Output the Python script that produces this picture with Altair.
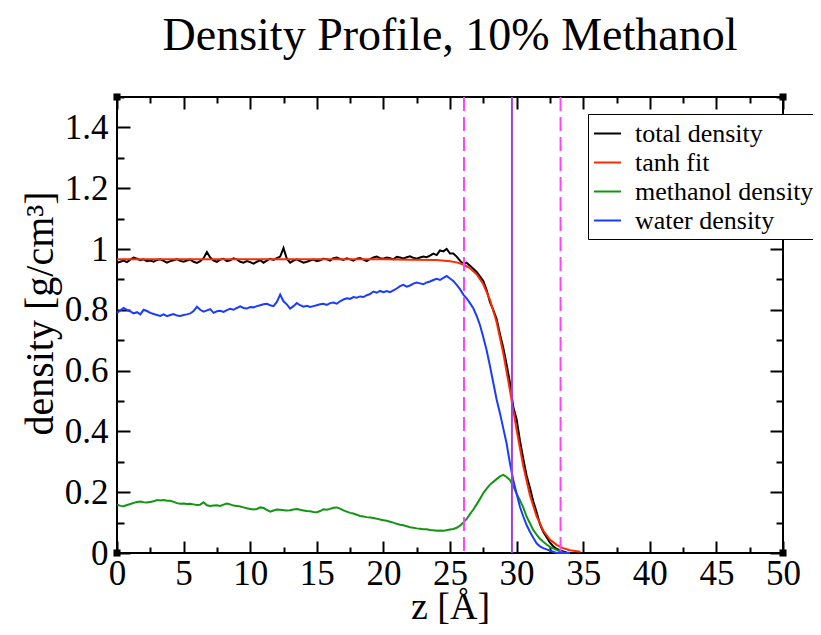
import altair as alt
import pandas as pd

# ---------------- data ----------------
# z grid (Angstrom), 0 .. 34 in 0.25 steps
z_grid = [round(i * 0.25, 2) for i in range(137)]

total_density = [
    0.955, 0.958, 0.962, 0.957, 0.965, 0.972, 0.968, 0.963, 0.966, 0.960, 0.962,
    0.958, 0.964, 0.966, 0.961, 0.955, 0.960, 0.963, 0.967, 0.961, 0.958,
    0.962, 0.965, 0.958, 0.954, 0.960, 0.970, 0.990, 0.972, 0.962, 0.958,
    0.965, 0.968, 0.960, 0.963, 0.969, 0.966, 0.958, 0.955, 0.960, 0.957,
    0.952, 0.958, 0.963, 0.955, 0.962, 0.968, 0.964, 0.970, 0.975, 1.003,
    0.968, 0.955, 0.962, 0.966, 0.960, 0.955, 0.958, 0.962, 0.965, 0.960,
    0.963, 0.968, 0.966, 0.962, 0.970, 0.972, 0.967, 0.964, 0.969, 0.966,
    0.962, 0.968, 0.970, 0.965, 0.960, 0.967, 0.972, 0.975, 0.970, 0.968,
    0.972, 0.970, 0.966, 0.974, 0.972, 0.969, 0.973, 0.976, 0.971, 0.968,
    0.972, 0.975, 0.973, 0.978, 0.985, 0.980, 0.995, 0.992, 1.000, 0.985,
    0.985, 0.975, 0.962, 0.950, 0.955, 0.945, 0.935, 0.925, 0.910, 0.895,
    0.865, 0.825, 0.800, 0.770, 0.720, 0.675, 0.620, 0.560, 0.480, 0.440,
    0.370, 0.310, 0.255, 0.215, 0.170, 0.135, 0.095, 0.070, 0.052, 0.035,
    0.022, 0.014, 0.008, 0.005, 0.002, 0.0,
]

water_density = [
    0.790, 0.798, 0.806, 0.800, 0.795, 0.788, 0.792, 0.785, 0.800, 0.796, 0.790,
    0.786, 0.783, 0.780, 0.785, 0.779, 0.783, 0.786, 0.781, 0.780, 0.783,
    0.785, 0.788, 0.796, 0.810, 0.800, 0.794, 0.798, 0.802, 0.790, 0.795,
    0.797, 0.793, 0.799, 0.803, 0.800, 0.806, 0.811, 0.806, 0.804, 0.809,
    0.808, 0.812, 0.815, 0.818, 0.820, 0.815, 0.812, 0.826, 0.850, 0.828,
    0.818, 0.804, 0.812, 0.822, 0.815, 0.810, 0.813, 0.809, 0.812, 0.815,
    0.818, 0.820, 0.816, 0.822, 0.824, 0.820, 0.828, 0.834, 0.838, 0.836,
    0.842, 0.840, 0.844, 0.842, 0.848, 0.852, 0.860, 0.856, 0.862, 0.858,
    0.862, 0.858, 0.864, 0.870, 0.878, 0.882, 0.876, 0.880, 0.886, 0.890,
    0.887, 0.884, 0.890, 0.893, 0.898, 0.902, 0.898, 0.905, 0.911, 0.903,
    0.895, 0.882, 0.868, 0.850, 0.838, 0.822, 0.805, 0.780, 0.750, 0.710,
    0.667, 0.615, 0.560, 0.505, 0.460, 0.410, 0.360, 0.295, 0.240, 0.195,
    0.152, 0.120, 0.092, 0.070, 0.050, 0.032, 0.022, 0.016, 0.012, 0.008,
    0.004, 0.0, 0.0, 0.0, 0.0, 0.0,
]

methanol_density = [
    0.160, 0.155, 0.154, 0.158, 0.161, 0.165, 0.168, 0.169, 0.167, 0.166, 0.168,
    0.170, 0.174, 0.173, 0.174, 0.172, 0.172, 0.168, 0.164, 0.162, 0.163,
    0.161, 0.162, 0.160, 0.158, 0.159, 0.167, 0.157, 0.155, 0.156, 0.157,
    0.155, 0.159, 0.163, 0.160, 0.156, 0.155, 0.153, 0.150, 0.147, 0.145,
    0.143, 0.145, 0.150, 0.148, 0.142, 0.136, 0.140, 0.143, 0.142, 0.141,
    0.140, 0.141, 0.143, 0.145, 0.142, 0.140, 0.138, 0.137, 0.135, 0.134,
    0.138, 0.144, 0.142, 0.145, 0.149, 0.150, 0.146, 0.140, 0.136, 0.132,
    0.130, 0.126, 0.122, 0.120, 0.118, 0.117, 0.115, 0.113, 0.110, 0.108,
    0.106, 0.103, 0.100, 0.096, 0.093, 0.091, 0.088, 0.085, 0.083, 0.081,
    0.080, 0.078, 0.078, 0.076, 0.075, 0.073, 0.074, 0.073, 0.075, 0.077,
    0.079, 0.083, 0.090, 0.100, 0.112, 0.128, 0.143, 0.160, 0.178, 0.197,
    0.212, 0.225, 0.234, 0.243, 0.252, 0.257, 0.250, 0.240, 0.220, 0.195,
    0.174, 0.150, 0.120, 0.098, 0.076, 0.060, 0.047, 0.037, 0.028, 0.020,
    0.015, 0.010, 0.005, 0.002, 0.0, 0.0,
]

fit_z = [0, 5, 10, 15, 20, 22, 24, 25, 25.5, 26, 26.5, 27, 27.5, 28, 28.5,
         29, 29.5, 30, 30.5, 31, 31.5, 32, 32.5, 33, 33.5, 34, 34.8]
fit_density = [0.966, 0.966, 0.966, 0.966, 0.966, 0.965, 0.964, 0.960, 0.956,
               0.949, 0.937, 0.917, 0.884, 0.833, 0.759, 0.657, 0.535, 0.405,
               0.286, 0.190, 0.121, 0.074, 0.044, 0.027, 0.016, 0.009, 0.004]

boundary_z = [26.05, 33.3]   # dashed magenta lines
midpoint_z = [29.65]         # solid violet line

series_names = ["total density", "tanh fit", "methanol density", "water density"]
series_colors = ["#000000", "#ff2a00", "#129612", "#1a3cff"]

x_tick_values = [0, 2.5, 5, 7.5, 10, 12.5, 15, 17.5, 20, 22.5, 25, 27.5, 30,
                 32.5, 35, 37.5, 40, 42.5, 45, 47.5, 50]
y_tick_values = [0, 0.1, 0.2, 0.3, 0.4, 0.5, 0.6, 0.7, 0.8, 0.9, 1.0, 1.1,
                 1.2, 1.3, 1.4, 1.5]
x_label_values = [0, 5, 10, 15, 20, 25, 30, 35, 40, 45, 50]
y_label_values = [0, 0.2, 0.4, 0.6, 0.8, 1.0, 1.2, 1.4]

corner_x = [0, 50, 0, 50]
corner_y = [0, 0, 1.5, 1.5]

for name, arr in [("total", total_density), ("water", water_density),
                  ("methanol", methanol_density)]:
    assert len(arr) == len(z_grid), (name, len(arr), len(z_grid))
assert len(fit_z) == len(fit_density)

# ---------------- tables ----------------
rows = []
for z, v in zip(z_grid, total_density):
    rows.append({"z": z, "density": v, "series": "total density"})
for z, v in zip(fit_z, fit_density):
    rows.append({"z": z, "density": v, "series": "tanh fit"})
for z, v in zip(z_grid, methanol_density):
    rows.append({"z": z, "density": v, "series": "methanol density"})
for z, v in zip(z_grid, water_density):
    rows.append({"z": z, "density": v, "series": "water density"})
lines_df = pd.DataFrame(rows)

corner_df = pd.DataFrame({"z": corner_x, "density": corner_y})
boundary_df = pd.DataFrame({"z": boundary_z})
mid_df = pd.DataFrame({"z": midpoint_z})

# ---------------- chart ----------------
W, H = 666, 456
FONT = "Liberation Serif, Times New Roman, Times, serif"

xscale = alt.Scale(domain=[0, 50], nice=False, zero=False)
yscale = alt.Scale(domain=[0, 1.5], nice=False)

x_label_axis = alt.Axis(
    values=x_label_values, ticks=False, domain=False, grid=False,
    labelFont=FONT, labelFontSize=35, labelColor="black", labelPadding=3,
    labelFlush=False, labelOverlap=False,
    title="z [Å]", titleFont=FONT, titleFontSize=38, titleFontWeight="normal",
    titleColor="black", titleBaseline="alphabetic", titleY=65,
)
y_label_axis = alt.Axis(
    values=y_label_values, ticks=False, domain=False, grid=False, format="~g",
    labelFont=FONT, labelFontSize=35, labelColor="black", labelPadding=9,
    labelOverlap=False, labelFlush=False,
    title="density [g/cm³]", titleFont=FONT, titleFontSize=40,
    titleFontWeight="normal", titleColor="black", titlePadding=4, titleY=216,
)

x_cond = {"condition": {"test": "datum.value % 5 === 0", "value": 12}, "value": 6}
y_cond = {"condition": {"test": "abs(datum.value*5 - round(datum.value*5)) < 0.01",
                        "value": 13}, "value": 7}

def tick_axis(orient, offset, values, cond):
    return alt.Axis(orient=orient, offset=offset, values=values, labels=False,
                    domain=False, grid=False, tickColor="black", tickWidth=2,
                    tickSize=cond, title=None)

legend = alt.Legend(
    title=None, orient="none", legendX=471, legendY=17,
    symbolType="stroke", symbolSize=729, symbolStrokeWidth=2,
    labelFont=FONT, labelFontSize=26, labelColor="black", labelOffset=13,
    labelLimit=400, rowPadding=1, padding=5,
    strokeColor="black", fillColor="white",
)

lines = alt.Chart(lines_df).mark_line(strokeWidth=2).encode(
    x=alt.X("z:Q", scale=xscale, axis=x_label_axis),
    y=alt.Y("density:Q", scale=yscale, axis=y_label_axis),
    color=alt.Color("series:N", scale=alt.Scale(domain=series_names, range=series_colors),
                    legend=legend, sort=series_names),
)

dashed = alt.Chart(boundary_df).mark_rule(
    color="#ff44ff", strokeWidth=2, strokeDash=[14, 6]
).encode(x=alt.X("z:Q", scale=xscale, axis=None))

solid = alt.Chart(mid_df).mark_rule(color="#a040e0", strokeWidth=2).encode(
    x=alt.X("z:Q", scale=xscale, axis=None)
)

# inward ticks on bottom and left edges
ticks_bl = alt.Chart(corner_df).mark_square(size=50, color="black", opacity=1).encode(
    x=alt.X("z:Q", scale=xscale, axis=tick_axis("top", -H, x_tick_values, x_cond)),
    y=alt.Y("density:Q", scale=yscale, axis=tick_axis("right", -W, y_tick_values, y_cond)),
)
# inward ticks on top and right edges
ticks_tr = alt.Chart(corner_df).mark_point(opacity=0).encode(
    x=alt.X("z:Q", scale=xscale, axis=tick_axis("bottom", -H, x_tick_values, x_cond)),
    y=alt.Y("density:Q", scale=yscale, axis=tick_axis("left", -W, y_tick_values, y_cond)),
)

chart = alt.layer(lines, dashed, solid, ticks_bl, ticks_tr).resolve_axis(
    x="independent", y="independent"
).properties(
    width=W, height=H,
    title=alt.TitleParams("Density Profile, 10% Methanol", font=FONT, fontSize=46,
                          fontWeight="normal", color="black", anchor="middle", offset=33),
    padding={"left": 109, "top": 89, "right": 30, "bottom": 74},
    autosize=alt.AutoSizeParams(type="none"),
).configure_view(stroke="black", strokeWidth=2)

chart.save("out.html", embed_options={"renderer": "svg", "actions": False})
